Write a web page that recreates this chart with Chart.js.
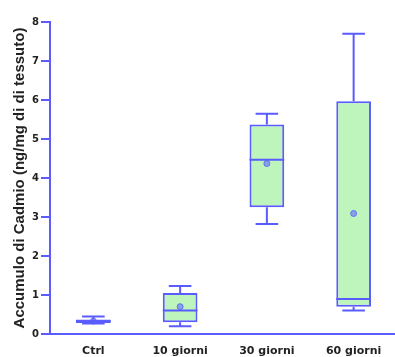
<!DOCTYPE html>
<html>
<head>
<meta charset="utf-8">
<script src="https://cdn.jsdelivr.net/npm/chart.js@4/dist/chart.umd.min.js"></script>
<style>
  html, body { margin: 0; padding: 0; background: #fff; overflow: hidden; }
</style>
</head>
<body>
<canvas id="chart" width="402" height="357"></canvas>
<script>
// box plot data (ng/mg)
const groups = ['Ctrl', '10 giorni', '30 giorni', '60 giorni'];
const minVals = [0.27, 0.2, 2.82, 0.6];
const q1Vals = [0.28, 0.3, 3.25, 0.7];
const medianVals = [0.33, 0.6, 4.47, 0.9];
const q3Vals = [0.37, 1.05, 5.37, 5.97];
const maxVals = [0.45, 1.23, 5.65, 7.7];
const meanVals = [0.33, 0.7, 4.37, 3.09];
const yTicks = [0, 1, 2, 3, 4, 5, 6, 7, 8];

const BLUE = '#5a5cff';
const FILL = '#bdf5bd';

// whiskers, caps and medians drawn on top of the floating bars
const boxPlugin = {
    id: 'boxWhiskers',
    afterDatasetsDraw(chart) {
        const ctx = chart.ctx;
        const xs = chart.scales.x;
        const ys = chart.scales.y;
        const bars = chart.getDatasetMeta(0).data;
        ctx.save();
        ctx.strokeStyle = BLUE;
        ctx.lineWidth = 2;
        groups.forEach((g, i) => {
            const x = xs.getPixelForValue(i);
            const half = bars[i].width / 2;
            const cap = half * 0.65;
            const yMin = ys.getPixelForValue(minVals[i]);
            const yQ1 = ys.getPixelForValue(q1Vals[i]);
            const yMed = ys.getPixelForValue(medianVals[i]);
            const yQ3 = ys.getPixelForValue(q3Vals[i]);
            const yMax = ys.getPixelForValue(maxVals[i]);
            ctx.beginPath();
            ctx.moveTo(x, yQ3); ctx.lineTo(x, yMax);
            ctx.moveTo(x - cap, yMax); ctx.lineTo(x + cap, yMax);
            ctx.moveTo(x, yQ1); ctx.lineTo(x, yMin);
            ctx.moveTo(x - cap, yMin); ctx.lineTo(x + cap, yMin);
            ctx.moveTo(x - half, yMed); ctx.lineTo(x + half, yMed);
            ctx.stroke();
        });
        ctx.restore();
    }
};

const ctx = document.getElementById('chart').getContext('2d');
new Chart(ctx, {
    type: 'bar',
    data: {
        labels: groups,
        datasets: [
            {
                type: 'bar',
                data: groups.map((g, i) => [q1Vals[i], q3Vals[i]]),
                backgroundColor: FILL,
                borderColor: BLUE,
                borderWidth: 2,
                borderSkipped: false,
                barPercentage: 0.4,
                categoryPercentage: 1,
                order: 2
            },
            {
                type: 'line',
                data: meanVals,
                showLine: false,
                pointStyle: 'circle',
                pointRadius: 3,
                pointBackgroundColor: 'rgba(90,92,255,0.55)',
                pointBorderColor: 'rgba(90,92,255,0.8)',
                pointBorderWidth: 1,
                order: 1
            }
        ]
    },
    options: {
        responsive: false,
        animation: false,
        layout: { padding: { top: 22, right: 0, left: 0, bottom: 0 } },
        plugins: {
            legend: { display: false },
            tooltip: { enabled: false }
        },
        scales: {
            x: {
                grid: { display: false },
                border: { color: BLUE, width: 2 },
                ticks: {
                    color: '#222',
                    padding: 3,
                    maxRotation: 0,
                    font: { family: 'DejaVu Sans', size: 11, weight: 'bold' }
                },
                afterFit(scale) { scale.height = 23; }
            },
            y: {
                min: yTicks[0],
                max: yTicks[yTicks.length - 1],
                grid: { display: true, drawOnChartArea: false, drawTicks: true, tickLength: 9, color: BLUE, lineWidth: 2 },
                border: { color: BLUE, width: 2 },
                ticks: {
                    stepSize: 1,
                    color: '#222',
                    padding: 2,
                    font: { family: 'DejaVu Sans', size: 10, weight: 'bold' }
                },
                title: {
                    display: true,
                    text: 'Accumulo di Cadmio (ng/mg di di tessuto)',
                    color: '#222',
                    padding: { top: 11, bottom: 0 },
                    font: { family: 'Liberation Sans', size: 15, weight: 'bold' }
                },
                afterFit(scale) { scale.width = 50; }
            }
        }
    },
    plugins: [boxPlugin]
});
</script>
</body>
</html>
